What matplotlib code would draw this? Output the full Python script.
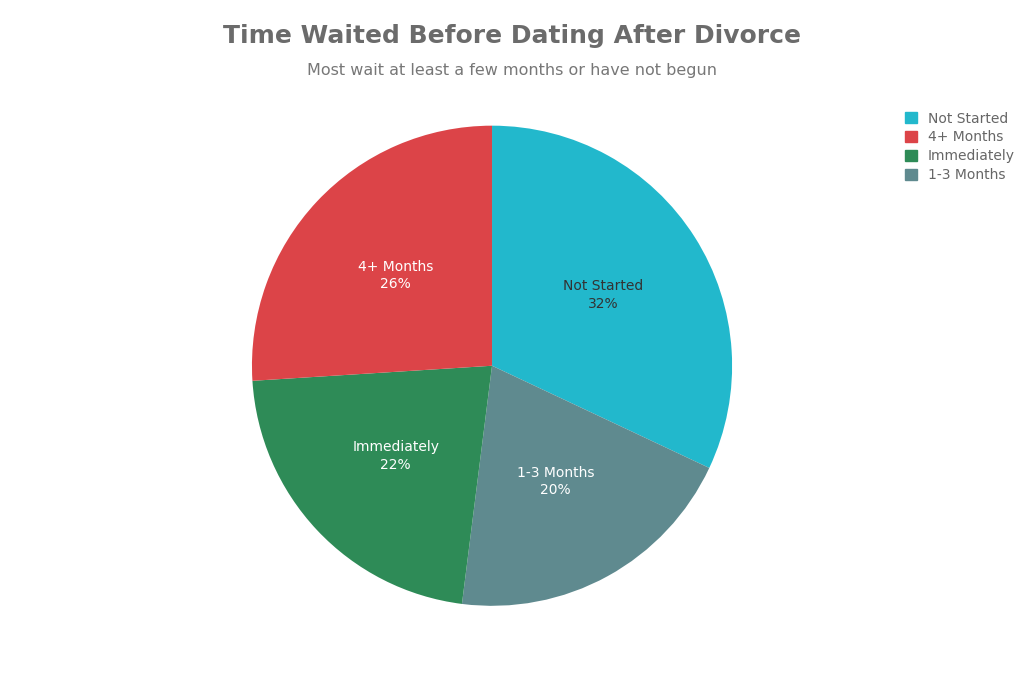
import matplotlib
matplotlib.use("Agg")
import matplotlib.pyplot as plt
from matplotlib.patches import Patch
import numpy as np

categories = ["Not Started", "1-3 Months", "Immediately", "4+ Months"]
values = [32, 20, 22, 26]
colors = ["#22B8CC", "#5F8A8F", "#2E8B57", "#DC4448"]
text_colors = ["#333333", "white", "white", "white"]
legend_order = ["Not Started", "4+ Months", "Immediately", "1-3 Months"]

fig = plt.figure(figsize=(10.24, 6.83), dpi=100)
ax = fig.add_axes([0.246, 0.113, 0.469, 0.703])
wedges, texts = ax.pie(values, colors=colors, startangle=90, counterclock=False,
                       wedgeprops=dict(linewidth=0))
total = sum(values)
for w, c, v, tc in zip(wedges, categories, values, text_colors):
    ang = np.deg2rad((w.theta1 + w.theta2) / 2)
    r = 0.55
    ax.text(r * np.cos(ang), r * np.sin(ang), f"{c}\n{round(v/total*100)}%",
            ha="center", va="center", color=tc, fontsize=10, linespacing=1.3)
ax.set_xlim(-1, 1)
ax.set_ylim(-1, 1)
ax.set_aspect("equal")

fig.text(0.5, 0.948, "Time Waited Before Dating After Divorce", ha="center", va="center",
         fontsize=18, fontweight="bold", color="#6b6b6b")
fig.text(0.5, 0.897, "Most wait at least a few months or have not begun", ha="center",
         va="center", fontsize=11.5, color="#777777")

handles = [Patch(color=colors[categories.index(n)], label=n) for n in legend_order]
fig.legend(handles=handles, loc="upper left", bbox_to_anchor=(0.872, 0.855), frameon=False,
           fontsize=10, handlelength=0.8, handleheight=0.8, labelcolor="#666666",
           labelspacing=0.35, handletextpad=0.8)
fig.savefig("out.png", dpi=100, facecolor="white")
